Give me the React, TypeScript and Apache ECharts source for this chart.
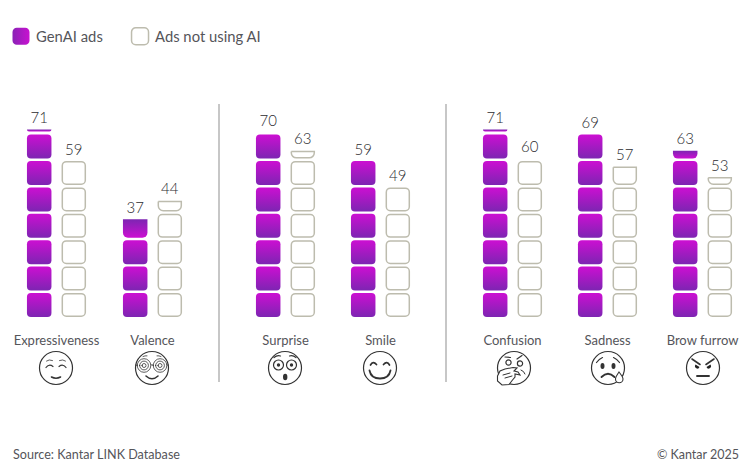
import React, { useEffect, useRef } from "react";
import * as echarts from "echarts";

const legendNames = ["GenAI ads", "Ads not using AI"];
const groupCategories = [
  ["Expressiveness", "Valence"],
  ["Surprise", "Smile"],
  ["Confusion", "Sadness", "Brow furrow"],
];
const genAiValues = [
  [71, 37],
  [70, 59],
  [71, 69, 63],
];
const nonAiValues = [
  [59, 44],
  [63, 49],
  [60, 57, 53],
];
const sourceText = "Source: Kantar LINK Database";
const copyrightText = "© Kantar 2025";

const FONT = "Lato";
const TEXT = "#55555a";
const OUTLINE = "#bdbcae";
const MAGENTA = "#cc0fd2";
const PURPLE = "#7d25b2";

const grids = [
  { left: 8.5, width: 192 },
  { left: 238, width: 190 },
  { left: 465, width: 285 },
];

const CIRCLE = "M0.5 17A16.5 16.5 0 1 1 33.5 17A16.5 16.5 0 1 1 0.5 17Z";
const ring = (cx: number, cy: number, r: number) =>
  `M${cx - r} ${cy}A${r} ${r} 0 1 1 ${cx + r} ${cy}A${r} ${r} 0 1 1 ${cx - r} ${cy}Z`;

type Part = { d: string; fill?: string; lw?: number };
const faces: { cx: number; parts: Part[] }[] = [
  {
    cx: 56,
    parts: [
      { d: CIRCLE },
      { d: "M7.5 10Q10 8 13.5 9.5M20.5 9.5Q24 8 26.5 10", lw: 0.8 },
      { d: "M7 16.5Q10 12.5 14 15.5M20 15.5Q24 12.5 27 16.5" },
      { d: "M12.5 26Q17 28.5 21.5 26", lw: 1.6 },
    ],
  },
  {
    cx: 152,
    parts: [
      { d: CIRCLE },
      {
        d:
          ring(9, 14.5, 6.8) + ring(25, 14.5, 6.8) + ring(9, 14.5, 4.4) + ring(25, 14.5, 4.4) +
          ring(9, 14.5, 2) + ring(25, 14.5, 2) + "M16 14Q17 13 18 14M0.8 14L2 14M32 14L33.2 14M8 5.5Q10 4.5 12 4.8M22 4.8Q24 4.5 26 5.5",
        lw: 0.8,
      },
      { d: "M11 25Q17 30.5 23 25", lw: 1.6 },
    ],
  },
  {
    cx: 285,
    parts: [
      { d: CIRCLE },
      { d: ring(10.5, 14, 5) + ring(23.5, 14, 5) + "M6 6.5Q9 4 12.5 5M21.5 5Q25 4 28 6.5" },
      { d: ring(10.5, 14, 1.7) + ring(23.5, 14, 1.7), fill: "#333" },
      { d: "M15 26A2.2 3.2 0 1 1 19.4 26A2.2 3.2 0 1 1 15 26Z", fill: "#333" },
    ],
  },
  {
    cx: 380,
    parts: [
      { d: CIRCLE },
      { d: "M7.5 14Q10 9.5 13.5 13.5M20.5 13.5Q24 9.5 26.5 14", lw: 1.7 },
      { d: "M6.5 19.5Q8 27.5 17 27.5Q26 27.5 27.5 19.5", lw: 1.8 },
    ],
  },
  {
    cx: 514,
    parts: [
      { d: CIRCLE },
      { d: ring(11.5, 11.5, 2.6) + ring(23, 12.5, 2.6) + "M8 6L13.5 6.5M20 8L25 4.5" },
      {
        d: "M0.5 25L3 20L8 18L16 16.5L20 17L17 20L21 21L23 24L18 23L18 26L15.5 29L12 33.5L5 34L0.5 30Z",
        fill: "#fff",
        lw: 1.1,
      },
      { d: "M6 24L13 22M8 27L15 25M24 19Q27 20 28 23", lw: 1 },
    ],
  },
  {
    cx: 608,
    parts: [
      { d: CIRCLE },
      { d: "M5.5 11.5Q8 8 11.5 6.5M22.5 6.5Q26 8 28.5 11.5" },
      { d: "M9.5 15A2 3 0 1 1 13.5 15A2 3 0 1 1 9.5 15ZM20.5 15A2 3 0 1 1 24.5 15A2 3 0 1 1 20.5 15Z", fill: "#333" },
      { d: "M10.5 26Q17 19.5 23.5 26", lw: 1.8 },
      { d: "M28 21Q24.5 26 24.5 28A3.7 3.7 0 0 0 32 28Q32 26 28 21Z", fill: "#fff", lw: 1.1 },
    ],
  },
  {
    cx: 703,
    parts: [
      { d: CIRCLE },
      { d: "M6 8L14 13.5M28 8L20 13.5", lw: 1.6 },
      { d: "M9.5 13.5L13.5 16A2.3 2.6 0 1 1 9.5 13.5ZM24.5 13.5L20.5 16A2.3 2.6 0 1 0 24.5 13.5Z", fill: "#222" },
      { d: "M11 25H23", lw: 1.9 },
    ],
  },
];

const partShapes: { key: string; cx: number; part: Part }[] = [];
faces.forEach((f, i) =>
  f.parts.forEach((p, j) => {
    const key = `face-${i}-${j}`;
    echarts.graphic.registerShape(key, echarts.graphic.extendPath(p.d, {}) as any);
    partShapes.push({ key, cx: f.cx, part: p });
  })
);

const BAND = 10;
const CELL = 9.1;
const CELL_W = 24.5;
const OFFSET = 17.3;

function makeRender(filled: boolean) {
  return (params: any, api: any) => {
    const idx = api.value(0);
    const val = api.value(1);
    const xc = api.coord([idx, 0])[0] + (filled ? -OFFSET : OFFSET);
    const children: any[] = [];
    const inset = filled ? 0 : 0.75;
    const x = xc - CELL_W / 2 + inset;
    const w = CELL_W - inset * 2;
    // a remainder nearly as tall as a cell is drawn as a whole cell
    const floorCells = Math.floor(val / BAND);
    const remainder = val - floorCells * BAND;
    const nearlyFull = remainder >= CELL - 0.2;
    const whole = nearlyFull ? floorCells + 1 : floorCells;
    for (let k = 0; k < whole; k++) {
      const yb = api.coord([idx, k * BAND])[1];
      const yt = api.coord([idx, k * BAND + CELL])[1];
      children.push({
        type: "rect",
        shape: { x, y: yt + inset, width: w, height: yb - yt - inset * 2, r: 4 },
        style: filled
          ? {
              fill: new echarts.graphic.LinearGradient(0, 0, 0, 1, [
                { offset: 0, color: MAGENTA },
                { offset: 1, color: PURPLE },
              ]),
            }
          : { fill: "#fff", stroke: OUTLINE, lineWidth: 1.5 },
      });
    }
    const yTop = api.coord([idx, val])[1];
    if (remainder > 0 && !nearlyFull) {
      const yb = api.coord([idx, whole * BAND])[1];
      const h = Math.max(yb - yTop - inset * 2 - (remainder <= 1.2 ? 0.6 : 0), 1);
      children.push({
        type: "rect",
        shape: { x, y: yTop + inset, width: w, height: h, r: [0, 0, Math.min(5, h), Math.min(5, h)] },
        style: filled
          ? {
              fill: new echarts.graphic.LinearGradient(0, 0, 0, 1, [
                { offset: 0, color: PURPLE },
                { offset: 1, color: MAGENTA },
              ]),
            }
          : { fill: "#fff", stroke: OUTLINE, lineWidth: 1.5 },
      });
    }
    children.push({
      type: "text",
      style: {
        text: String(val),
        x: xc,
        y: yTop - 5,
        textAlign: "center",
        textVerticalAlign: "bottom",
        fontFamily: FONT,
        fontSize: 15,
        fontWeight: 300,
        fill: "#2c2c30",
      },
    });
    return { type: "group", children };
  };
}

export default function App() {
  const ref = useRef<HTMLDivElement>(null);
  useEffect(() => {
    const chart = echarts.init(ref.current!, undefined, { renderer: "svg" });
    const series: any[] = [];
    groupCategories.forEach((cats, g) => {
      [true, false].forEach((filled) => {
        const vals = filled ? genAiValues[g] : nonAiValues[g];
        series.push({
          type: "custom",
          name: filled ? legendNames[0] : legendNames[1],
          xAxisIndex: g,
          yAxisIndex: g,
          clip: false,
          encode: { x: 0, y: 1 },
          itemStyle: { color: filled ? MAGENTA : "#fff" },
          data: vals.map((v, i) => [i, v]),
          renderItem: makeRender(filled),
        });
      });
    });
    chart.setOption({
      animation: false,
      backgroundColor: "#fff",
      legend: {
        left: 12.5,
        top: 27,
        padding: 0,
        itemWidth: 17,
        itemHeight: 17,
        itemGap: 28,
        selectedMode: false,
        textStyle: { fontFamily: FONT, fontSize: 14.8, color: TEXT, padding: [0, 0, 0, 1.5] },
        data: [
          {
            name: legendNames[0],
            icon: "roundRect",
            itemStyle: {
              color: new echarts.graphic.LinearGradient(0, 0, 1, 0, [
                { offset: 0, color: "#8a22b6" },
                { offset: 1, color: "#c812d0" },
              ]),
              borderWidth: 0,
            },
          },
          {
            name: legendNames[1],
            icon: "roundRect",
            itemStyle: { color: "#fff", borderColor: OUTLINE, borderWidth: 1.5 },
          },
        ],
      },
      grid: grids.map((g) => ({ left: g.left, width: g.width, top: 53, bottom: 152 })),
      xAxis: groupCategories.map((cats, g) => ({
        type: "category",
        gridIndex: g,
        data: cats,
        axisLine: { show: false },
        axisTick: { show: false },
        axisLabel: { interval: 0, margin: 16, fontFamily: FONT, fontSize: 13, color: TEXT },
      })),
      yAxis: groupCategories.map((_, g) => ({
        type: "value",
        gridIndex: g,
        min: 0,
        max: 100,
        show: false,
      })),
      series,
      graphic: [
        { type: "line", shape: { x1: 219, y1: 104, x2: 219, y2: 382 }, style: { stroke: "#a9a9a9", lineWidth: 1.3 } },
        { type: "line", shape: { x1: 446, y1: 104, x2: 446, y2: 382 }, style: { stroke: "#a9a9a9", lineWidth: 1.3 } },
        { type: "text", x: 13, y: 448, style: { text: sourceText, fontFamily: FONT, fontSize: 12.6, fill: TEXT } },
        { type: "text", x: 739, y: 448, style: { text: copyrightText, textAlign: "right", fontFamily: FONT, fontSize: 12.5, fill: TEXT } },
        ...partShapes.map((s) => ({
          type: s.key,
          x: s.cx - 17,
          y: 351,
          style: {
            fill: s.part.fill === undefined ? "none" : s.part.fill,
            stroke: s.part.fill === "#333" || s.part.fill === "#222" ? "none" : "#333",
            lineWidth: s.part.lw ?? 1.2,
            lineCap: "round",
          },
        })),
      ],
    });
    return () => chart.dispose();
  }, []);
  return <div ref={ref} style={{ position: "absolute", left: 0, top: 0, width: 750, height: 469 }} />;
}
